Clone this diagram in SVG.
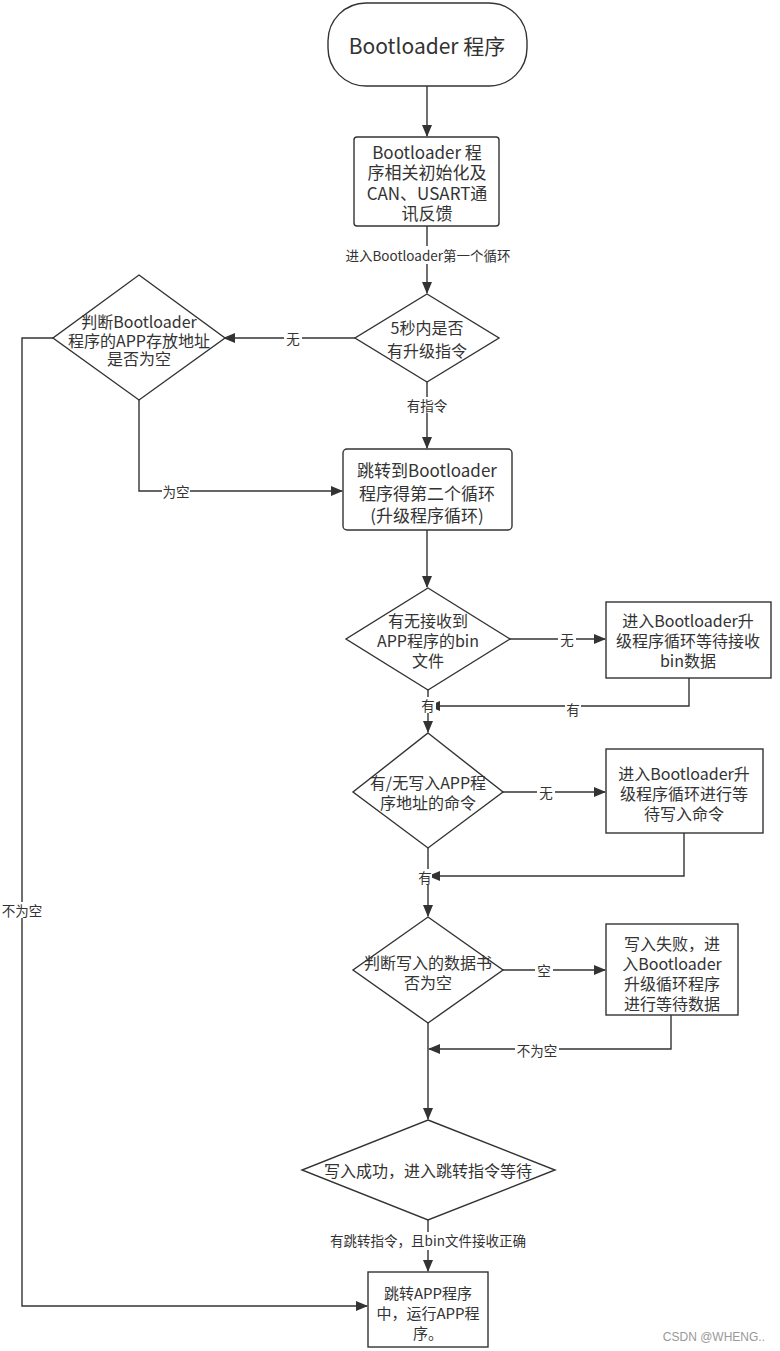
<svg xmlns="http://www.w3.org/2000/svg" width="780" height="1351" viewBox="0 0 780 1351">
<style>
.n{fill:#fff;stroke:#333;stroke-width:1.4}
.t{font-family:"Noto Sans CJK SC","Noto Sans",sans-serif;fill:#333;text-anchor:middle;dominant-baseline:central}
.c{fill:none;stroke:#333;stroke-width:1.4}
.lb{fill:#fff}
.l{font-size:13.5px}
</style>
<defs>
<marker id="ah" markerWidth="12" markerHeight="10" refX="11" refY="5" orient="auto" markerUnits="userSpaceOnUse">
<path d="M0,0 L12,5 L0,10 Z" fill="#333"/>
</marker>
</defs>
<rect width="780" height="1351" fill="#fff"/>
<g id="connectors">
<path class="c" d="M427,86 V136" marker-end="url(#ah)"/>
<path class="c" d="M427,226 V293" marker-end="url(#ah)"/>
<path class="c" d="M355,338 H224" marker-end="url(#ah)"/>
<path class="c" d="M427,382 V448" marker-end="url(#ah)"/>
<path class="c" d="M139,400 V491 H342" marker-end="url(#ah)"/>
<path class="c" d="M53,338 H22 V1306 H367" marker-end="url(#ah)"/>
<path class="c" d="M427,530 V587" marker-end="url(#ah)"/>
<path class="c" d="M510,639 H605" marker-end="url(#ah)"/>
<path class="c" d="M689,678 V706 H429" marker-end="url(#ah)"/>
<path class="c" d="M428,690 V732" marker-end="url(#ah)"/>
<path class="c" d="M503,792 H605" marker-end="url(#ah)"/>
<path class="c" d="M684,833 V876 H429" marker-end="url(#ah)"/>
<path class="c" d="M428,848 V916" marker-end="url(#ah)"/>
<path class="c" d="M503,970 H605" marker-end="url(#ah)"/>
<path class="c" d="M671,1015 V1049 H429" marker-end="url(#ah)"/>
<path class="c" d="M428,1023 V1119" marker-end="url(#ah)"/>
<path class="c" d="M428,1220 V1271" marker-end="url(#ah)"/>
<rect class="lb" x="340" y="246" width="176" height="18"/>
<text class="t l" x="428" y="255">进入Bootloader第一个循环</text>
<rect class="lb" x="284" y="330" width="18" height="16"/>
<text class="t l" x="293" y="338">无</text>
<rect class="lb" x="406" y="397" width="42" height="16"/>
<text class="t l" x="427" y="405">有指令</text>
<rect class="lb" x="162" y="483" width="28" height="16"/>
<text class="t l" x="176" y="491">为空</text>
<rect class="lb" x="1" y="902" width="42" height="16"/>
<text class="t l" x="22" y="910">不为空</text>
<rect class="lb" x="558" y="631" width="18" height="16"/>
<text class="t l" x="567" y="639">无</text>
<rect class="lb" x="565" y="701" width="16" height="16"/>
<text class="t l" x="573" y="709">有</text>
<rect class="lb" x="420" y="697" width="16" height="16"/>
<text class="t l" x="428" y="705">有</text>
<rect class="lb" x="537" y="784" width="18" height="16"/>
<text class="t l" x="546" y="792">无</text>
<rect class="lb" x="418" y="869" width="14" height="16"/>
<text class="t l" x="425" y="877">有</text>
<rect class="lb" x="535" y="962" width="18" height="16"/>
<text class="t l" x="544" y="970">空</text>
<rect class="lb" x="515" y="1042" width="44" height="16"/>
<text class="t l" x="537" y="1050">不为空</text>
<rect class="lb" x="326" y="1232" width="204" height="18"/>
<text class="t l" x="428" y="1240">有跳转指令，且bin文件接收正确</text>
</g>
<g id="start">
<rect class="n" x="328" y="3" width="199" height="83" rx="38" ry="38"/>
<text class="t" x="427" y="45" font-size="21">Bootloader 程序</text>
</g>
<g id="init">
<rect class="n" x="354" y="137" width="145" height="89" rx="3"/>
<text class="t" x="427" y="151" font-size="17">Bootloader 程</text>
<text class="t" x="427" y="171" font-size="17">序相关初始化及</text>
<text class="t" x="427" y="192" font-size="17">CAN、USART通</text>
<text class="t" x="427" y="212" font-size="17">讯反馈</text>
</g>
<g id="d1">
<polygon class="n" points="427,294 499,338 427,382 355,338"/>
<text class="t" x="427" y="327" font-size="16">5秒内是否</text>
<text class="t" x="427" y="350" font-size="16">有升级指令</text>
</g>
<g id="d2">
<polygon class="n" points="139,275 225,338 139,400 53,338"/>
<text class="t" x="139" y="321" font-size="16">判断Bootloader</text>
<text class="t" x="139" y="340" font-size="16">程序的APP存放地址</text>
<text class="t" x="139" y="358" font-size="16">是否为空</text>
</g>
<g id="loop2">
<rect class="n" x="343" y="449" width="169" height="81" rx="4"/>
<text class="t" x="427" y="469" font-size="17">跳转到Bootloader</text>
<text class="t" x="427" y="492" font-size="17">程序得第二个循环</text>
<text class="t" x="427" y="514" font-size="17">(升级程序循环)</text>
</g>
<g id="d3">
<polygon class="n" points="428,588 510,639 428,690 346,639"/>
<text class="t" x="428" y="620" font-size="16">有无接收到</text>
<text class="t" x="428" y="640" font-size="16">APP程序的bin</text>
<text class="t" x="428" y="660" font-size="16">文件</text>
</g>
<g id="b4">
<rect class="n" x="606" y="602" width="165" height="76"/>
<text class="t" x="688" y="620" font-size="16">进入Bootloader升</text>
<text class="t" x="688" y="640" font-size="16">级程序循环等待接收</text>
<text class="t" x="688" y="660" font-size="16">bin数据</text>
</g>
<g id="d4">
<polygon class="n" points="428,733 503,792 428,848 353,792"/>
<text class="t" x="428" y="782" font-size="16">有/无写入APP程</text>
<text class="t" x="428" y="802" font-size="16">序地址的命令</text>
</g>
<g id="b5">
<rect class="n" x="606" y="749" width="157" height="84"/>
<text class="t" x="684" y="773" font-size="16">进入Bootloader升</text>
<text class="t" x="684" y="793" font-size="16">级程序循环进行等</text>
<text class="t" x="684" y="813" font-size="16">待写入命令</text>
</g>
<g id="d5">
<polygon class="n" points="428,917 503,970 428,1023 353,970"/>
<text class="t" x="428" y="962" font-size="16">判断写入的数据书</text>
<text class="t" x="428" y="982" font-size="16">否为空</text>
</g>
<g id="b6">
<rect class="n" x="606" y="924" width="132" height="91"/>
<text class="t" x="672" y="943" font-size="16">写入失败，进</text>
<text class="t" x="672" y="963" font-size="16">入Bootloader</text>
<text class="t" x="672" y="983" font-size="16">升级循环程序</text>
<text class="t" x="672" y="1003" font-size="16">进行等待数据</text>
</g>
<g id="d6">
<polygon class="n" points="428,1120 555,1170 428,1220 302,1170"/>
<text class="t" x="428" y="1170" font-size="16">写入成功，进入跳转指令等待</text>
</g>
<g id="end">
<rect class="n" x="368" y="1272" width="120" height="75"/>
<text class="t" x="428" y="1292" font-size="15">跳转APP程序</text>
<text class="t" x="428" y="1312" font-size="15">中，运行APP程</text>
<text class="t" x="428" y="1332" font-size="15">序。</text>
</g>
<text x="765" y="1337" font-family="Liberation Sans, sans-serif" font-size="12" fill="#999" text-anchor="end" dominant-baseline="central">CSDN @WHENG..</text>
</svg>
